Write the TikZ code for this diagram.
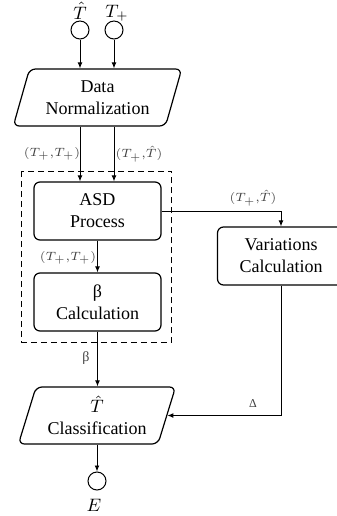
\documentclass[tikz,border=0pt]{standalone}
\usepackage{fontspec}
\setmainfont{Liberation Serif}
\usetikzlibrary{shapes.geometric,arrows.meta}

\begin{document}
\begin{tikzpicture}[x=0.5pt,y=-0.5pt,font=\fontsize{9}{11}\selectfont,
  proc/.style={draw,line width=0.6pt,rounded corners=3pt,minimum width=63.5pt,minimum height=29pt,align=center,inner sep=0pt},
  io/.style={draw,line width=0.6pt,trapezium,trapezium left angle=70,trapezium right angle=110,trapezium stretches=true,rounded corners=3pt,minimum height=28.5pt,align=center,inner sep=0pt},
  port/.style={draw,circle,minimum size=9pt,inner sep=0pt,line width=0.5pt},
  flow/.style={-{Latex[length=3pt,width=2.4pt]},line width=0.45pt},
  lbl/.style={font=\fontsize{6}{7}\selectfont,text=black!75,inner sep=1pt}]
\useasboundingbox (0,0) rectangle (337,516);
% inputs
\node[port] (that) at (80,30) {};
\node[port] (tplus) at (114,30) {};
\node[inner sep=1pt] (thatlbl) at (80,11) {$\hat{T}$};
\node[inner sep=1pt] (tpluslbl) at (117,13) {$T_+$};
% main column
\node[io,minimum width=84.5pt] (norm) at (97.5,97.5) {Data\\Normalization};
\draw[dash pattern=on 3pt off 2pt,line width=0.5pt] (22,171) rectangle (172,342);
\node[proc] (asd) at (97.5,211) {ASD\\Process};
\node[proc] (beta) at (97.5,302) {β\\Calculation};
\node[proc] (var) at (281,256) {Variations\\Calculation};
\node[io,minimum width=79pt] (cls) at (97,415.5) {$\hat{T}$\\Classification};
\node[port] (err) at (97,481) {};
\node[inner sep=1pt] (errlbl) at (94,505) {$E$};
% connectors
\draw[flow] (that) -- (that |- norm.north);
\draw[flow] (tplus) -- (tplus |- norm.north);
\draw[flow] (norm.south -| that) -- (asd.north -| that);
\draw[flow] (norm.south -| tplus) -- (asd.north -| tplus);
\node[lbl] (nl1) at (52,154) {$(T_+{,}T_+)$};
\node[lbl] (nl2) at (139,154) {$(T_+{,}\hat{T})$};
\draw[flow] (asd) -- (beta);
\node[lbl] (al1) at (68,258) {$(T_+{,}T_+)$};
\draw[flow] (beta.south) -- (beta.south |- cls.north);
\node[lbl,font=\fontsize{7}{8}\selectfont] (bl1) at (86,358) {β};
\draw[flow] (asd.east) -| (var.north);
\node[lbl] (al2) at (253,198) {$(T_+{,}\hat{T})$};
\draw[flow] (var.south) |- (cls.east);
\node[lbl] (vl1) at (253,404) {Δ};
\draw[flow] (cls) -- (err);
\end{tikzpicture}
\end{document}
